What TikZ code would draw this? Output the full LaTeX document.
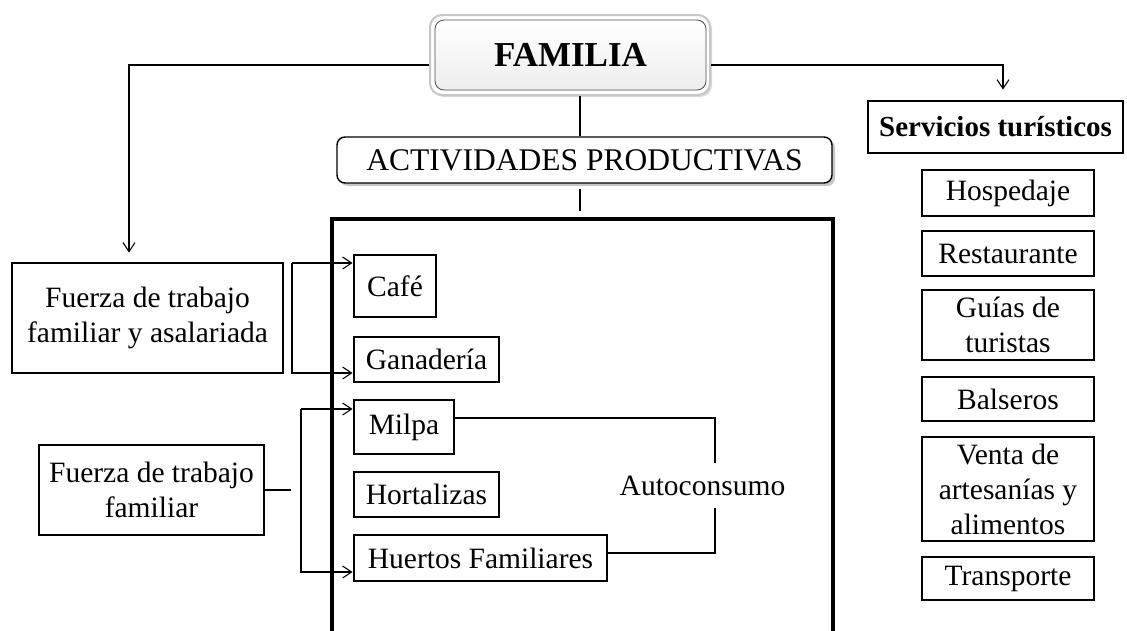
\documentclass[tikz,border=0pt]{standalone}
\usepackage{fontspec}
\setmainfont{Liberation Serif}
\usetikzlibrary{arrows.meta,shadows}
\begin{document}
\begin{tikzpicture}[x=1pt, y=-1pt,
  famtxt/.style = {font=\fontsize{29.5}{35}\selectfont},
  fambox/.style = {famtxt, draw, line width=2.8pt, inner sep=0pt, align=center},
  famround/.style = {draw, rounded corners=8pt, line width=1.4pt, fill=white,
    drop shadow={shadow xshift=3pt, shadow yshift=-3pt, opacity=.45}},
  famline/.style = {line width=1.1pt},
  famarrow/.style = {famline, -{Straight Barb[length=9pt, width=12pt, line width=1.1pt]}}
]
  \useasboundingbox (0,0) rectangle (1127,630);
  % cabecera
  \node[draw=gray!45, line width=2pt, rounded corners=12pt, fill=white,
    minimum width=280pt, minimum height=80pt,
    drop shadow={shadow xshift=2pt, shadow yshift=-2pt, opacity=.3}] (famout) at (570,55) {};
  \node[draw=gray!60!black, line width=.8pt, rounded corners=9pt,
    top color=white, bottom color=gray!14, minimum width=271pt, minimum height=70pt,
    font=\fontsize{35}{40}\selectfont\bfseries] (familia) at (570.5,55) {FAMILIA};
  \node[famround, font=\fontsize{31.5}{36}\selectfont, minimum width=495pt, minimum height=46pt, inner sep=0pt]
    (activ) at (584.5,160) {ACTIVIDADES PRODUCTIVAS};
  % recuadro de actividades
  \draw[line width=4pt] (332,640) -- (332,219) -- (833,219) -- (833,640);
  % fuerza de trabajo
  \node[fambox, minimum width=271pt, minimum height=110pt] (fzaA) at (147.5,318)
    {Fuerza de trabajo\\familiar y asalariada};
  \node[fambox, minimum width=225pt, minimum height=90pt] (fzaB) at (151.5,490)
    {Fuerza de trabajo\\familiar};
  % actividades
  \node[fambox, minimum width=82pt, minimum height=62pt] (cafe) at (395,286) {Café};
  \node[fambox, minimum width=145pt, minimum height=45pt] (ganad) at (426.5,359.5) {Ganadería};
  \node[fambox, minimum width=100pt, minimum height=54pt] (milpa) at (404,427) {Milpa};
  \node[fambox, minimum width=145pt, minimum height=45pt] (hortal) at (426.5,494.5) {Hortalizas};
  \node[fambox, minimum width=253pt, minimum height=46pt] (huertos) at (480.5,558) {Huertos Familiares};
  \node[famtxt, minimum height=45pt, inner sep=0pt] (autoc) at (702.5,485.5) {Autoconsumo};
  % servicios
  \node[fambox, minimum width=255pt, minimum height=52pt, font=\fontsize{29}{35}\selectfont\bfseries]
    (serv) at (995.5,127) {Servicios turísticos};
  \node[fambox, minimum width=172pt, minimum height=46pt] (hosp) at (1008,193) {Hospedaje};
  \node[fambox, minimum width=172pt, minimum height=45pt] (rest) at (1008,253.5) {Restaurante};
  \node[fambox, minimum width=172pt, minimum height=70pt] (guias) at (1008,325) {Guías de\\turistas};
  \node[fambox, minimum width=172pt, minimum height=44pt] (bals) at (1008,399) {Balseros};
  \node[fambox, minimum width=172pt, minimum height=104pt] (venta) at (1008,489)
    {Venta de\\artesanías y\\alimentos};
  \node[fambox, minimum width=172pt, minimum height=43pt] (transp) at (1008,578.5) {Transporte};
  % conectores
  \coordinate (eje) at (580,0);
  \coordinate (brA) at (292,263);
  \coordinate (brB) at (301,409);
  \coordinate (ac) at (715,0);
  \draw[famarrow, shorten >=9pt] ([yshift=-10pt]famout.west) -| ([xshift=-18.5pt]fzaA.north);
  \draw[famarrow, shorten >=10pt] ([yshift=-10pt]famout.east) -| ([xshift=7.5pt]serv.north);
  \draw[famline] (famout.south -| eje) -- (activ.north -| eje);
  \draw[famline] ([yshift=-5pt]activ.south -| eje) -- ++(0,22);
  \draw[famarrow] (brA) -- (brA -| cafe.west);
  \draw[famarrow] (brA) |- ([yshift=-13.5pt]ganad.west);
  \draw[famarrow] (brB) -- (brB -| milpa.west);
  \draw[famarrow] (brB) |- ([yshift=-14pt]huertos.west);
  \draw[famline] (fzaB.east) -- (291,490);
  \draw[famline] ([yshift=9pt]milpa.east) -| (autoc.north -| ac);
  \draw[famline] (autoc.south -| ac) |- ([yshift=5pt]huertos.east);
\end{tikzpicture}
\end{document}
